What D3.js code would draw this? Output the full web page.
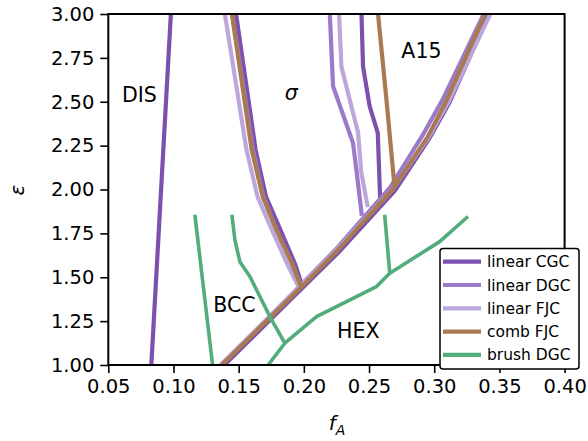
<!DOCTYPE html>
<html><head><meta charset="utf-8">
<script src="https://cdn.jsdelivr.net/npm/d3@7"></script>
<style>body{margin:0;background:#fff}svg{display:block}text{font-family:"DejaVu Sans",sans-serif}</style>
</head><body>
<svg id="c" width="588" height="441"></svg>
<script>
// ---- data (f_A, epsilon) ----
const xTicks = [0.05,0.10,0.15,0.20,0.25,0.30,0.35,0.40];
const yTicks = [1.00,1.25,1.50,1.75,2.00,2.25,2.50,2.75,3.00];
const seriesNames = ["linear CGC","linear DGC","linear FJC","comb FJC","brush DGC"];
const seriesColors = ["#7b50ae","#9b7bc9","#bba7db","#a97a52","#52ac7c"];

// linear CGC
const cgcDis    = [[0.083,1.0],[0.098,3.0]];
const cgcSigma  = [[0.148,3.0],[0.163,2.226],[0.171,1.958],[0.182,1.77],[0.193,1.58],[0.199,1.445]];
const cgcDiag   = [[0.139,1.0],[0.199,1.44],[0.227,1.645],[0.270,1.995],[0.297,2.3],[0.312,2.5],[0.342,3.0]];
const cgcA15    = [[0.2442,3.0],[0.2454,2.70],[0.2505,2.473],[0.2567,2.323],[0.2585,1.95]];
// linear DGC
const dgcSigma  = [[0.145,3.0],[0.161,2.226],[0.169,1.958],[0.179,1.77],[0.191,1.58],[0.198,1.445]];
const dgcDiag   = [[0.137,1.0],[0.197,1.45],[0.224,1.655],[0.266,2.01],[0.292,2.32],[0.307,2.52],[0.338,3.0]];
const dgcA15    = [[0.2199,3.0],[0.2224,2.588],[0.2377,2.265],[0.2405,2.1],[0.2445,1.85]];
// linear FJC
const fjcSigma  = [[0.1394,3.0],[0.156,2.226],[0.1645,1.958],[0.1755,1.77],[0.187,1.58],[0.196,1.445]];
const fjcDiag   = [[0.136,1.0],[0.197,1.447],[0.225,1.655],[0.268,2.0],[0.296,2.3],[0.311,2.5],[0.343,3.0]];
const fjcA15    = [[0.227,3.0],[0.2288,2.70],[0.2416,2.323],[0.244,2.1],[0.249,1.9]];
// comb FJC
const combSigma = [[0.1448,3.0],[0.160,2.226],[0.1685,1.958],[0.179,1.77],[0.1906,1.582],[0.198,1.445]];
const combDiag  = [[0.137,1.0],[0.198,1.445],[0.2255,1.65],[0.268,2.0],[0.295,2.3],[0.309,2.5],[0.339,3.0]];
const combA15   = [[0.2569,3.0],[0.2635,2.5],[0.2695,2.02]];
// brush DGC
const brushLeft  = [[0.1164,1.856],[0.130,1.0]];
const brushMid   = [[0.1448,1.856],[0.1471,1.713],[0.1509,1.589],[0.1586,1.504],[0.1739,1.276],[0.1854,1.124]];
const brushLow   = [[0.1726,1.0],[0.1854,1.124],[0.2097,1.276],[0.2557,1.447],[0.2659,1.523],[0.3042,1.703],[0.3259,1.846]];
const brushRight = [[0.262,1.856],[0.2659,1.523]];

const phaseLabels = [
  {t:"DIS", f:0.0605, e:2.50, it:false},
  {t:"σ",   f:0.1854, e:2.51, it:true},
  {t:"A15", f:0.2748, e:2.75, it:false},
  {t:"BCC", f:0.1305, e:1.304, it:false},
  {t:"HEX", f:0.2255, e:1.152, it:false}
];

const seriesLines = [
  [cgcDis,cgcSigma,cgcDiag,cgcA15],
  [dgcSigma,dgcDiag,dgcA15],
  [fjcSigma,fjcDiag,fjcA15],
  [combSigma,combDiag,combA15],
  [brushLeft,brushMid,brushLow,brushRight]
];

// ---- drawing ----
const svg = d3.select("#c");
const L=108.3, R=564.6, T=14, B=365;
const x = d3.scaleLinear().domain([0.05,0.40]).range([L,R]);
const y = d3.scaleLinear().domain([1,3]).range([B,T]);

svg.append("defs").append("clipPath").attr("id","clip")
  .append("rect").attr("x",L).attr("y",T).attr("width",R-L).attr("height",B-T);

const line = d3.line().x(d=>x(d[0])).y(d=>y(d[1]));
const g = svg.append("g").attr("clip-path","url(#clip)");
seriesLines.forEach((segs,i)=>{
  segs.forEach(s=>{
    g.append("path").attr("d",line(s)).attr("fill","none")
      .attr("stroke",seriesColors[i]).attr("stroke-width",i===4?3.6:4.2)
      .attr("stroke-linejoin","round").attr("stroke-linecap","butt");
  });
});

phaseLabels.forEach(p=>{
  svg.append("text").attr("x",x(p.f)).attr("y",y(p.e)).text(p.t)
    .attr("font-size",20.5).attr("font-style",p.it?"italic":"normal").attr("fill","#000");
});

// axes
const xa = svg.append("g").attr("transform",`translate(0,${B})`)
  .call(d3.axisBottom(x).tickValues(xTicks).tickFormat(d3.format(".2f")).tickSize(8).tickSizeOuter(0).tickPadding(6));
const ya = svg.append("g").attr("transform",`translate(${L},0)`)
  .call(d3.axisLeft(y).tickValues(yTicks).tickFormat(d3.format(".2f")).tickSize(8).tickSizeOuter(0).tickPadding(6));
[xa,ya].forEach(a=>{
  a.select(".domain").remove();
  a.selectAll(".tick line").attr("stroke","#000").attr("stroke-width",1.6);
  a.selectAll(".tick text").attr("font-size",19.5).attr("fill","#000").attr("font-family","DejaVu Sans");
});
svg.append("rect").attr("x",L).attr("y",T).attr("width",R-L).attr("height",B-T)
  .attr("fill","none").attr("stroke","#000").attr("stroke-width",2);

// axis labels
svg.append("text").attr("transform","translate(24,190) rotate(-90)").attr("text-anchor","middle")
  .attr("font-size",20).attr("font-style","italic").text("ε");
const xl = svg.append("text").attr("x",337).attr("y",430).attr("text-anchor","middle").attr("font-size",20);
xl.append("tspan").attr("font-style","italic").text("f");
xl.append("tspan").attr("font-style","italic").attr("font-size",14).attr("dy",5).text("A");

// legend
const lg = svg.append("g");
lg.append("rect").attr("x",440).attr("y",248.5).attr("width",139).attr("height",120.5).attr("rx",3)
  .attr("fill","#fff").attr("stroke","#000").attr("stroke-width",1.5);
seriesNames.forEach((n,i)=>{
  const yy = 261.7 + i*23.3;
  lg.append("line").attr("x1",443).attr("x2",481).attr("y1",yy).attr("y2",yy)
    .attr("stroke",seriesColors[i]).attr("stroke-width",4.2);
  lg.append("text").attr("x",487).attr("y",yy+5.5).attr("font-size",15.5).text(n);
});
</script>
</body></html>
